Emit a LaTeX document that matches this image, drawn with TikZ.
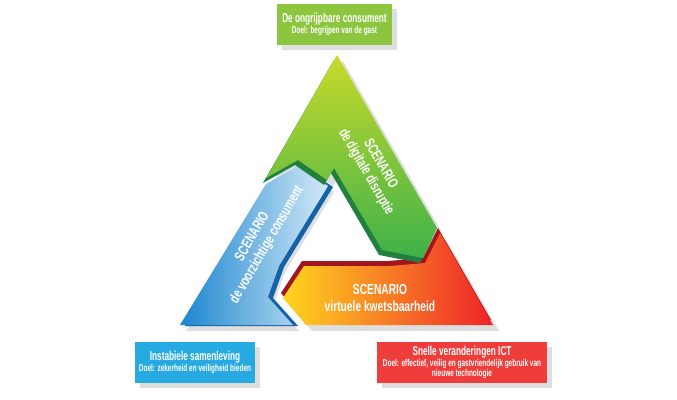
\documentclass[tikz,border=0pt]{standalone}
\usepackage{fontspec}
\setmainfont{Liberation Sans}
\usepackage{graphicx}
\newcommand\narrow[2][0.7]{\scalebox{#1}[1]{#2}}

\def\greenband{(266,178) -- (337,55) -- (437,228) -- (423,258) -- (382,250) -- (334,168) -- (327,180) -- (298,160) -- cycle}
\def\blueband{(180,325) -- (266,184) -- (298,166) -- (328,186) -- (279,266) -- (268,297) -- (293,325) -- cycle}
\def\redband{(440,233) -- (493,325) -- (306,325) -- (283,298) -- (304,266) -- (390,266) -- (425,263) -- cycle}
\definecolor{green top}{HTML}{C9DA2B}
\definecolor{green bottom}{HTML}{3DB14A}
\definecolor{green edge}{HTML}{21803D}
\definecolor{blue dark}{HTML}{1B86CE}
\definecolor{blue light}{HTML}{D3E9F8}
\definecolor{blue edge}{HTML}{1462A8}
\definecolor{red right}{HTML}{EE2229}
\definecolor{red mid}{HTML}{F68D1F}
\definecolor{red left}{HTML}{FFD61F}
\definecolor{red edge}{HTML}{A3151E}
\definecolor{shadow grey}{HTML}{DDDEE0}
\definecolor{box green}{HTML}{8CC63F}
\definecolor{box blue}{HTML}{27AAE1}
\definecolor{box red}{HTML}{EE3D3A}
\tikzset{band shadow/.style={fill=shadow grey, shift={(6,6)}},
    goal box/.style={minimum height=1.23cm, inner sep=0pt,
        preaction={fill=shadow grey, transform canvas={xshift=4.3pt, yshift=-4.3pt}}},
    box text/.style={text=white, align=center, inner sep=0pt,
        font=\bfseries\fontsize{8.5}{9}\selectfont},
    band text/.style={text=white, align=center, inner sep=0pt,
        font=\bfseries\fontsize{12.5}{14.2}\selectfont}}

\begin{document}
\begin{tikzpicture}[x=0.03cm, y=-0.03cm]
    \useasboundingbox (0,0) rectangle (677,400);
    % shadows under the three bands
    \fill[band shadow] \blueband;
    \fill[band shadow] \redband;
    \fill[band shadow] \greenband;
    % blue band
    \fill[blue edge, shift={(5,1)}] \blueband;
    \shade[left color=blue dark, right color=blue light] \blueband;
    % red band
    \fill[red edge, shift={(-2,-5)}] \redband;
    \shade[left color=red left, middle color=red mid, right color=red right] \redband;
    % green band
    \fill[green edge, shift={(-3,5)}] \greenband;
    \shade[top color=green top, bottom color=green bottom] \greenband;

    \node[band text, rotate=-60] (digitaal) at (373,168)
        {\narrow{SCENARIO}\\\narrow{de digitale disruptie}};
    \node[band text, rotate=60] (voorzichtig) at (260,241)
        {\narrow{SCENARIO}\\\narrow{de voorzichtige consument}};
    \node[band text] (kwetsbaar) at (380,298)
        {\narrow{SCENARIO}\\\narrow{virtuele kwetsbaarheid}};

    \node[goal box, fill=box green, minimum width=3.45cm] (consument) at (334.5,24.5) {};
    \node[box text] (consumenttxt) at (consument)
        {\narrow[0.64]{\fontsize{11}{12}\selectfont De ongrijpbare consument}\\
         \narrow[0.65]{Doel: begrijpen van de gast}};
    \node[goal box, fill=box blue, minimum width=3.6cm] (samenleving) at (195,362.5) {};
    \node[box text] (samenlevingtxt) at (samenleving)
        {\narrow[0.64]{\fontsize{11}{12}\selectfont Instabiele samenleving}\\
         \narrow[0.65]{Doel: zekerheid en veiligheid bieden}};
    \node[goal box, fill=box red, minimum width=5.1cm] (ict) at (462,362.5) {};
    \node[box text] (icttxt) at (ict)
        {\narrow[0.64]{\fontsize{11}{12}\selectfont Snelle veranderingen ICT}\\
         \narrow[0.65]{Doel: effectief, veilig en gastvriendelijk gebruik van}\\
         \narrow[0.65]{nieuwe technologie}};
\end{tikzpicture}
\end{document}
